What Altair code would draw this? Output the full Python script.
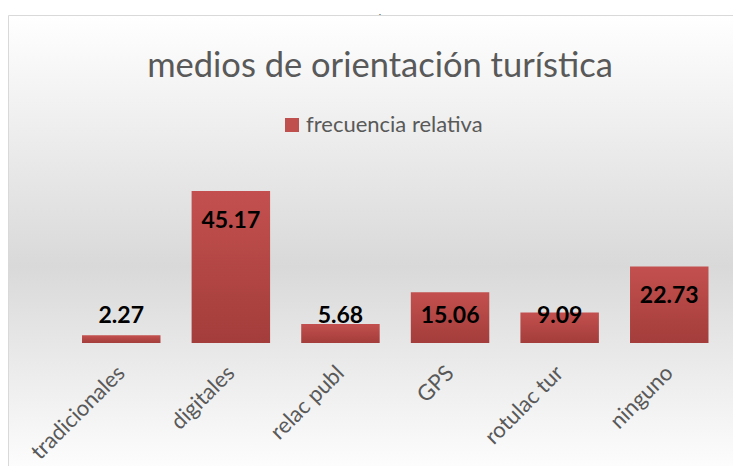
import altair as alt
import pandas as pd

categories = ["tradicionales", "digitales", "relac publ", "GPS", "rotulac tur", "ninguno"]
values = [2.27, 45.17, 5.68, 15.06, 9.09, 22.73]
series_name = "frecuencia relativa"
title_text = "medios de orientación turística"

df = pd.DataFrame({"cat": categories, "v": values, "serie": [series_name] * len(categories)})
one = pd.DataFrame({"k": [0]})

# layout (page coordinates of plot origin: 66.45, 174.7)
W = 657.6
H = 168.3
PL = 58.45
PT = 166.7
PR = 725 - PL - W
PB = 458 - PT - H
OX = 8 + PL
OY = 8 + PT

FONT = "Lato"
GRAY = "#595959"

bg_grad = alt.LinearGradient(
    gradient="linear", x1=0, y1=0, x2=0, y2=1,
    stops=[alt.GradientStop(offset=0, color="#ffffff"),
           alt.GradientStop(offset=0.54, color="#d9d9d9"),
           alt.GradientStop(offset=1, color="#ffffff")])
bar_grad = alt.LinearGradient(
    gradient="linear", x1=0, y1=0, x2=0, y2=1,
    stops=[alt.GradientStop(offset=0, color="#c3504e"),
           alt.GradientStop(offset=1, color="#a33d3b")])

x_enc = alt.X("cat:N", sort=categories,
              scale=alt.Scale(paddingInner=0.284, paddingOuter=0.142),
              axis=alt.Axis(title=None, labelAngle=-45, labelFontSize=22, labelFont=FONT,
                            labelColor=GRAY, domain=False, ticks=False, labelPadding=19,
                            labelOffset=-7, grid=False, zindex=2))
y_scale = alt.Scale(domain=[0, 50])

bg = alt.Chart(one).mark_rect(fill=bg_grad, stroke="#d9d9d9", strokeWidth=1).encode(
    x=alt.value(8.5 - OX), x2=alt.value(800), y=alt.value(15.5 - OY), y2=alt.value(480 - OY))

bars = alt.Chart(df).mark_bar(color=bar_grad).encode(
    x=x_enc, y=alt.Y("v:Q", scale=y_scale, axis=None))

legend_layer = alt.Chart(df).mark_point(shape="square", filled=True, opacity=0).encode(
    x=x_enc, y=alt.Y("v:Q", scale=y_scale, axis=None),
    color=alt.Color("serie:N", scale=alt.Scale(range=["#c0504d"]),
                    legend=alt.Legend(title=None, orient="none", legendX=281 - OX, legendY=114 - OY,
                                      symbolType="square", symbolSize=196, symbolOpacity=1,
                                      symbolStrokeWidth=0, labelFont=FONT, labelFontSize=22,
                                      labelColor=GRAY, labelOffset=3, labelLimit=400,
                                      padding=0, zindex=2)))

labels = alt.Chart(df).transform_calculate(ly="max(datum.v - 8.9, 8)").mark_text(
    font=FONT, fontWeight="bold", fontSize=23, color="black", baseline="middle").encode(
    x=x_enc, y=alt.Y("ly:Q", scale=y_scale, axis=None), text=alt.Text("v:Q", format=".2f"))

title = alt.Chart(one).mark_text(text=title_text, font=FONT, fontSize=34.5, color=GRAY,
                                 baseline="alphabetic", align="center").encode(
    x=alt.value(380 - OX), y=alt.value(77 - OY))

dot = alt.Chart(one).mark_text(text=".", font=FONT, fontSize=8, color="black",
                               baseline="top", align="center").encode(
    x=alt.value(380 - OX), y=alt.value(9 - OY))

chart = alt.layer(bg, bars, legend_layer, labels, title, dot).properties(
    width=W, height=H,
    padding={"left": PL, "top": PT, "right": PR, "bottom": PB},
    autosize=alt.AutoSizeParams(type="none"),
).configure_view(stroke=None)

chart.save("out.html", embed_options={"renderer": "svg", "actions": False})
